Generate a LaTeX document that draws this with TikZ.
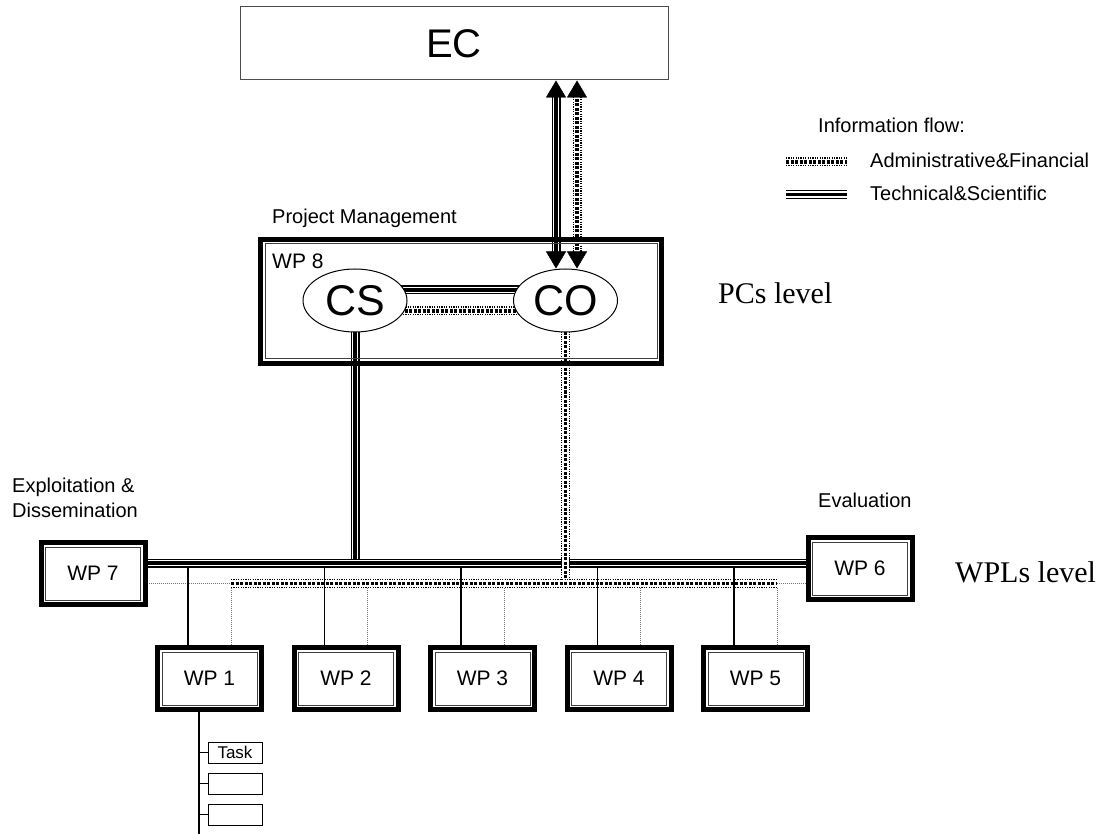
\documentclass[tikz,border=0pt]{standalone}
\usepackage{fontspec}
\setmainfont{Liberation Sans}
\newfontfamily\levelfont{Liberation Serif}
\usetikzlibrary{shapes.geometric,arrows.meta,calc}
\pgfdeclarelayer{links}
\pgfsetlayers{links,main}
\newcommand{\fsize}[1]{\fontsize{#1}{#1}\selectfont}

\begin{document}
\begin{tikzpicture}[x=1pt,y=-1pt]
  \tikzset{
    wpbox/.style={draw,line width=5pt,fill=white,inner sep=0pt,
      minimum width=104pt,minimum height=62pt,font=\fsize{21},
      path picture={\draw[line width=1pt,black!75]
        ([shift={(4.5pt,4.5pt)}]path picture bounding box.south west) rectangle
        ([shift={(-4.5pt,-4.5pt)}]path picture bounding box.north east);}},
    unit/.style={ellipse,draw,line width=1pt,fill=white,inner sep=0pt,
      minimum width=104pt,minimum height=63pt,font=\fsize{43}},
    taskbox/.style={draw,line width=1pt,fill=white,inner sep=0pt,
      minimum width=54pt,minimum height=21pt,font=\fsize{17}},
    lbl/.style={inner sep=0pt,anchor=west,font=\fsize{20}},
    level/.style={inner sep=0pt,anchor=west,font=\levelfont\fsize{30}},
    techline/.style={line width=3.5pt,preaction={draw,line width=9pt},
      preaction={draw,white,line width=6.5pt}},
    adminline/.style={line width=3.5pt,dash pattern=on 3pt off 1.5pt,
      preaction={draw,line width=9pt,dash pattern=on 1.2pt off 1.2pt},
      preaction={draw,white,line width=6.5pt,solid}},
    tdrop/.style={line width=1.2pt},
    adrop/.style={line width=1pt,black!55,dash pattern=on 1pt off 1pt},
    flowtips/.style={tips,{Triangle[length=17pt,width=20pt]}-{Triangle[length=17pt,width=20pt]}}
  }
  \useasboundingbox (0,0) rectangle (1109,834);

  \node[draw=black!70,line width=1pt,minimum width=428pt,minimum height=73pt,
    font=\fsize{40}] (EC) at (454,43.5) {EC};

  \node[lbl] (info) at (818,125) {Information flow:};
  \coordinate (lgA) at (786,162);
  \coordinate (lgAe) at (847,162);
  \node[lbl] (admtxt) at (870,160) {Administrative\&Financial};
  \coordinate (lgT) at (786,194.5);
  \coordinate (lgTe) at (847,194.5);
  \node[lbl] (techtxt) at (870,193) {Technical\&Scientific};
  \draw[adminline] (lgA) -- (lgAe);
  \draw[techline] (lgT) -- (lgTe);

  \node[lbl] (pm) at (272,218) {Project Management};
  \node[wpbox,fill=none,minimum width=401pt,minimum height=124pt] (WP8) at (461,301.5) {};
  \node[lbl,font=\fsize{21}] (wp8lbl) at (272,261) {WP 8};
  \node[unit] (CS) at (355,300.5) {CS};
  \node[unit] (CO) at (565.5,300.5) {CO};
  \node[level] (pcs) at (718,293) {PCs level};

  \node[lbl,align=left,font=\fontsize{20}{25}\selectfont] (expl) at (12,498) {Exploitation \&\\Dissemination};
  \node[lbl] (eval) at (818,500) {Evaluation};
  \node[wpbox] (WP7) at (93,573.5) {WP 7};
  \node[wpbox] (WP6) at (860,568.5) {WP 6};
  \node[level] (wpls) at (955,572) {WPLs level};
  \foreach \i in {1,...,5}
    \node[wpbox] (WP\i) at ({209.5+136.5*(\i-1)},678.5) {WP \i};

  \foreach \i/\t in {1/Task,2/,3/}
    \node[taskbox] (T\i) at (235,{752.5+31*(\i-1)}) {\t};

  \begin{pgfonlayer}{links}
    \coordinate (tbus) at (0,563);
    \coordinate (abus) at (0,583.5);
    \coordinate (ta) at ($(CO.north)+(-9.5,0)$);
    \coordinate (aa) at ($(CO.north)+(11.5,0)$);
    \draw[techline,shorten <=14pt,shorten >=14pt] (ta |- EC.south) -- (ta);
    \draw[adminline,shorten <=14pt,shorten >=14pt] (aa |- EC.south) -- (aa);
    \draw[techline] ($(CS.center)+(0,-10.5)$) -- ($(CO.center)+(0,-10.5)$);
    \draw[adminline] ($(CS.center)+(0,10.5)$) -- ($(CO.center)+(0,10.5)$);
    \draw[techline] (CS.center) -- (CS.center |- tbus);
    \draw[techline] (WP7.center |- tbus) -- (WP6.center |- tbus);
    \draw[adminline] (CO.center) -- (CO.center |- abus);
    \foreach \i in {1,...,5}{
      \coordinate (s\i) at ($(WP\i.north)+(-21.5,0)$);
      \coordinate (a\i) at ($(WP\i.north)+(21.5,0)$);
    }
    \draw[adrop] (WP7.center |- abus) -- (a1 |- abus);
    \draw[adrop] (a5 |- abus) -- (WP6.center |- abus);
    \draw[adminline] (a1 |- abus) -- (a5 |- abus);
    \foreach \i in {1,...,5}{
      \draw[tdrop,shorten <=4.5pt] (s\i |- tbus) -- (s\i);
      \draw[adrop,shorten <=4.5pt] (a\i |- abus) -- (a\i);
    }
    \coordinate (trunk) at ($(WP1.center)+(-10.5,0)$);
    \coordinate (trunkend) at (trunk |- 0,834);
    \draw[tdrop] (trunk) -- (trunkend);
    \foreach \i in {1,2,3}
      \draw[tdrop] (trunk |- T\i.west) -- (T\i.west);
  \end{pgfonlayer}
  \path[flowtips] (ta |- EC.south) -- (ta);
  \path[flowtips] (aa |- EC.south) -- (aa);
\end{tikzpicture}
\end{document}
